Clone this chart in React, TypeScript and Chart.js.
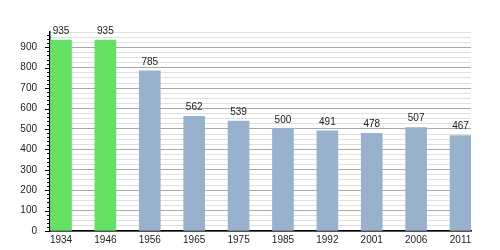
import React, { useEffect, useRef } from "react";
import { Chart, registerables } from "chart.js";

Chart.register(...registerables);

const years = ["1934", "1946", "1956", "1965", "1975", "1985", "1992", "2001", "2006", "2011"];
const population = [935, 935, 785, 562, 539, 500, 491, 478, 507, 467];
const barColors = ["#64e164", "#64e164", "#98b2cd", "#98b2cd", "#98b2cd", "#98b2cd", "#98b2cd", "#98b2cd", "#98b2cd", "#98b2cd"];
const yMax = 975;

const FONT = "'Liberation Sans', Arial, sans-serif";

const axisTicksPlugin = {
  id: "axisTicks",
  afterDraw(chart: any) {
    const { ctx, chartArea } = chart;
    const y = chart.scales.y;
    ctx.save();
    ctx.strokeStyle = "#000";
    ctx.lineWidth = 1;
    for (let v = 0; v <= yMax; v += 20) {
      const py = Math.round(y.getPixelForValue(v)) + 0.5;
      const len = v % 100 === 0 ? 5 : 3;
      ctx.beginPath();
      ctx.moveTo(chartArea.left - len, py);
      ctx.lineTo(chartArea.left, py);
      ctx.stroke();
    }
    ctx.restore();
  },
};

const valueLabelsPlugin = {
  id: "valueLabels",
  afterDatasetsDraw(chart: any) {
    const { ctx } = chart;
    const meta = chart.getDatasetMeta(0);
    ctx.save();
    ctx.fillStyle = "#222";
    ctx.font = `10px ${FONT}`;
    ctx.textAlign = "center";
    ctx.textBaseline = "middle";
    meta.data.forEach((bar: any, i: number) => {
      ctx.fillText(String(population[i]), bar.x, bar.y - 9);
    });
    ctx.restore();
  },
};

export default function App() {
  const ref = useRef<HTMLCanvasElement>(null);
  useEffect(() => {
    if (!ref.current) return;
    const chart = new Chart(ref.current, {
      type: "bar",
      data: {
        datasets: [
          {
            data: population.map((v, i) => ({ x: i, y: v })),
            backgroundColor: barColors,
            borderWidth: 0,
            barThickness: 21,
          },
        ],
      },
      options: {
        animation: false,
        responsive: false,
        maintainAspectRatio: false,
        layout: { padding: { top: 32, right: 29, left: 0, bottom: 0 } },
        plugins: { legend: { display: false }, tooltip: { enabled: false } },
        scales: {
          x: {
            type: "linear",
            offset: false,
            min: -0.248,
            max: 9.236,
            afterBuildTicks: (s: any) => {
              s.ticks = years.map((_, i) => ({ value: i }));
            },
            afterFit: (s: any) => {
              s.height = 18;
            },
            grid: { display: false, drawTicks: false, offset: false },
            border: { display: true, color: "#000", width: 1.5 },
            ticks: {
              autoSkip: false,
              maxRotation: 0,
              padding: 3,
              color: "#222",
              font: { family: FONT, size: 10 },
              callback: (v: any) => years[v] ?? "",
            },
          },
          y: {
            min: 0,
            max: yMax,
            afterFit: (s: any) => {
              s.width = 50;
            },
            grid: {
              drawTicks: false,
              color: (c: any) => (c.tick && c.tick.value % 100 === 0 ? "#a9a9a9" : "#e0e0e0"),
              lineWidth: 1,
            },
            border: { display: true, color: "#000", width: 1.5 },
            ticks: {
              stepSize: 25,
              autoSkip: false,
              padding: 13,
              color: "#222",
              font: { family: FONT, size: 10 },
              callback: (v: any) => (v % 100 === 0 ? String(v) : ""),
            },
          },
        },
      },
      plugins: [axisTicksPlugin, valueLabelsPlugin],
    });
    return () => chart.destroy();
  }, []);
  return (
    <div style={{ position: "fixed", left: 0, top: 0, width: 500, height: 250, background: "#fff" }}>
      <canvas ref={ref} width={500} height={250} style={{ width: 500, height: 250 }} />
    </div>
  );
}
